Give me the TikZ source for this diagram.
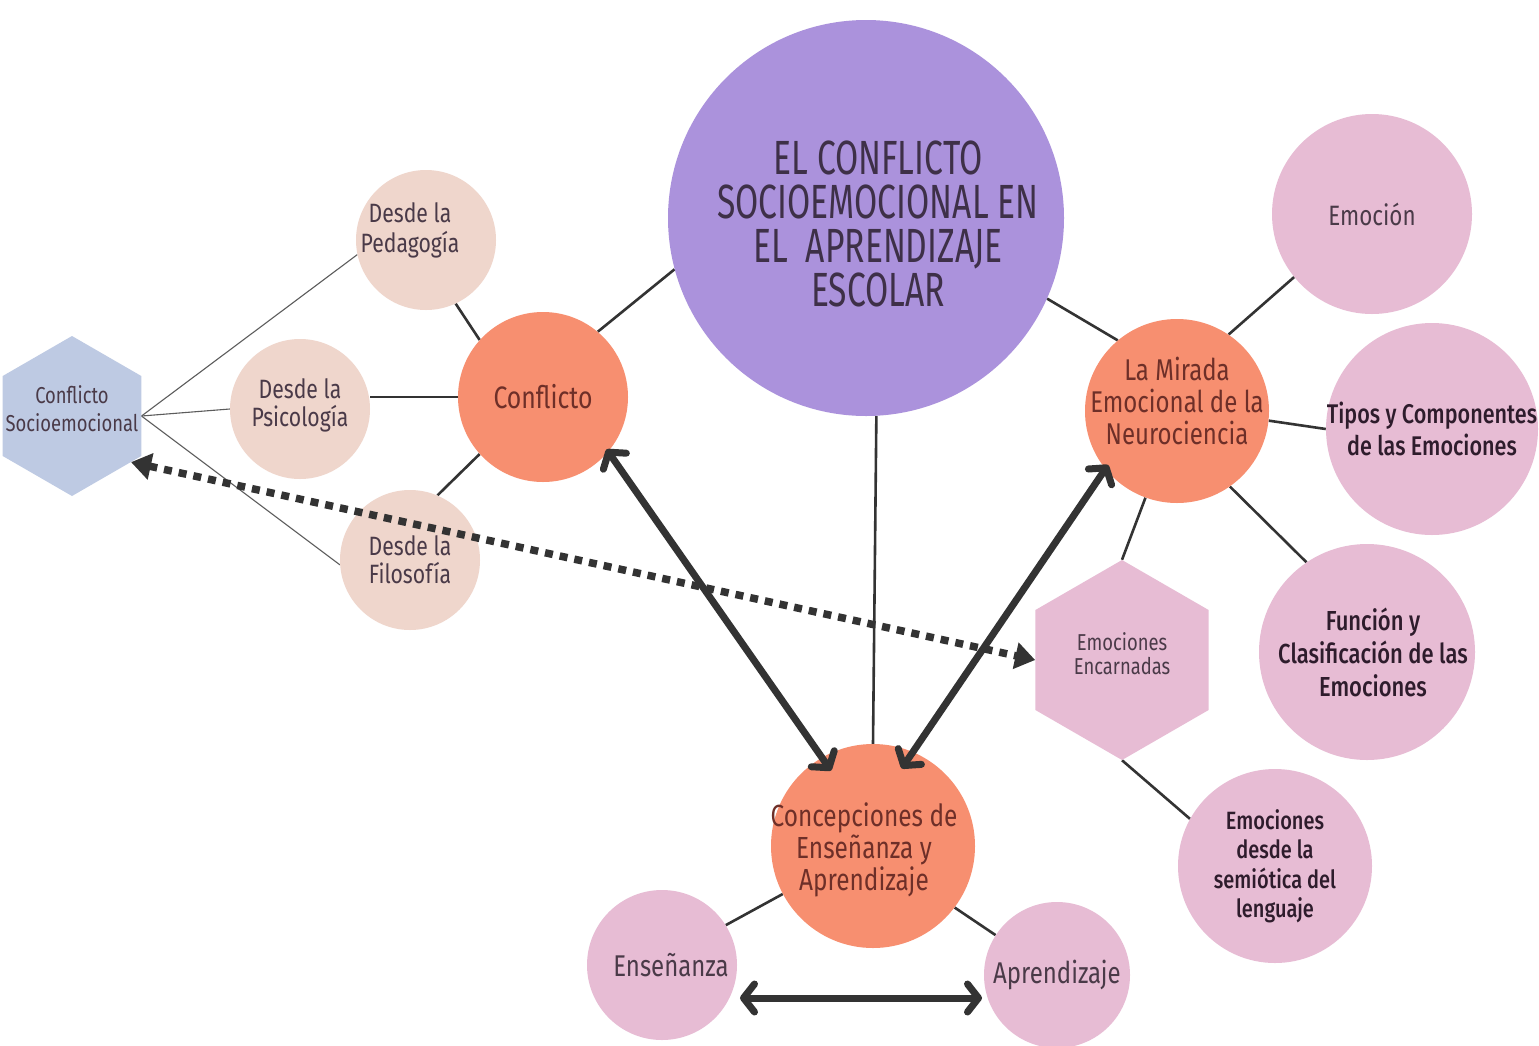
\documentclass[tikz,border=0pt]{standalone}
\usepackage{fontspec}
\setmainfont{Fira Sans}[FakeStretch=0.8]
\newfontfamily\mediumfont{Fira Sans Medium}[FakeStretch=0.8]
\newfontfamily\titlefont{Fira Sans}[FakeStretch=0.7]
\usetikzlibrary{shapes.geometric,arrows.meta,calc,backgrounds}

\definecolor{lilac}{HTML}{AB92DC}
\definecolor{coral}{HTML}{F78F70}
\definecolor{peach}{HTML}{EFD6CC}
\definecolor{rose}{HTML}{E7BCD4}
\definecolor{sky}{HTML}{BECAE3}
\definecolor{ink}{HTML}{333333}
\definecolor{plumtext}{HTML}{4A3A48}
\definecolor{rusttext}{HTML}{6E2F28}
\definecolor{darktext}{HTML}{2E1C2C}
\definecolor{titletext}{HTML}{3E3048}

\newcommand{\fsz}[2]{\fontsize{#1pt}{#2pt}\selectfont}

\begin{document}
\begin{tikzpicture}[x=1pt,y=-1pt,
  bubble/.style={circle, inner sep=-40pt, align=center, minimum size=#1},
  hexa/.style={regular polygon, regular polygon sides=6, shape border rotate=30,
    inner sep=-40pt, align=center, minimum size=#1},
  lbl/.style={align=center, inner sep=0pt},
  link/.style={draw=ink, line width=2.6pt},
  thinlink/.style={draw=ink!80, line width=1.1pt},
  boldarrow/.style={draw=ink, line width=7pt, line cap=round,
    {Straight Barb[length=11pt,width=28pt,line cap=round,line join=round]}-{Straight Barb[length=11pt,width=28pt,line cap=round,line join=round]}},
  dotarrow/.style={draw=ink, line width=7.5pt, dash pattern=on 8pt off 7pt,
    {Triangle[length=20pt,width=26pt]}-{Triangle[length=20pt,width=26pt]}}
]
\useasboundingbox (0,0) rectangle (1539,1045);

% central topic
\node[bubble=396pt, fill=lilac] (main) at (866,218) {};
\node[text=titletext, font=\titlefont\fsz{48}{44}, align=center] (title) at (878,224)
  {EL CONFLICTO\\SOCIOEMOCIONAL EN\\EL\ \ APRENDIZAJE\\ESCOLAR};

% left branch
\node[bubble=170pt, fill=coral, text=rusttext, font=\fsz{31}{36}] (conf) at (543,397) {Conflicto};
\node[bubble=140pt, fill=peach,
  label={[lbl, text=plumtext, font=\fsz{26.5}{30}, xshift=-16pt, yshift=10pt]center:Desde la\\Pedagogía}]
  (ped) at (426,240) {};
\node[bubble=140pt, fill=peach,
  label={[lbl, text=plumtext, font=\fsz{26.5}{28}, yshift=4pt]center:Desde la\\Psicología}]
  (psi) at (300,409) {};
\node[bubble=140pt, fill=peach, text=plumtext, font=\fsz{26.5}{28}] (fil) at (410,560) {Desde la\\Filosofía};
\node[hexa=160pt, fill=sky,
  label={[lbl, text=plumtext, font=\fsz{23}{28}, yshift=7pt]center:Conflicto\\Socioemocional}]
  (soc) at (72,416) {};

% right branch
\node[bubble=184pt, fill=coral,
  label={[lbl, text=rusttext, font=\fsz{30}{32}, yshift=10pt]center:La Mirada\\Emocional de la\\Neurociencia}]
  (mir) at (1177,411) {};
\node[bubble=200pt, fill=rose, text=plumtext, font=\fsz{28}{30}] (emo) at (1372,214) {Emoción};
\node[bubble=212pt, fill=rose, text=darktext, font=\mediumfont\fsz{27}{32}] (tip) at (1432,429) {Tipos y Componentes\\de las Emociones};
\node[bubble=216pt, fill=rose,
  label={[lbl, text=darktext, font=\mediumfont\fsz{27.5}{33}, xshift=6pt]center:Función y\\Clasificación de las\\Emociones}]
  (fun) at (1367,652) {};
\node[bubble=194pt, fill=rose, text=darktext, font=\mediumfont\fsz{25}{29.5}] (sem) at (1275,866) {Emociones\\desde la\\semiótica del\\lenguaje};
\node[hexa=200pt, fill=rose,
  label={[lbl, text=plumtext, font=\fsz{23}{24}, yshift=6pt]center:Emociones\\Encarnadas}]
  (enc) at (1122,660) {};

% bottom branch
\node[bubble=204pt, fill=coral,
  label={[lbl, text=rusttext, font=\fsz{30.5}{32}, xshift=-9pt, yshift=-4pt]center:Concepciones de\\Enseñanza y\\Aprendizaje}]
  (conc) at (873,846) {};
\node[bubble=150pt, fill=rose,
  label={[lbl, text=plumtext, font=\fsz{30}{30}, xshift=9pt]center:Enseñanza}]
  (ens) at (662,965) {};
\node[bubble=146pt, fill=rose, text=plumtext, font=\fsz{30}{30}] (apr) at (1057,975) {Aprendizaje};

\begin{pgfonlayer}{background}
  \fill[white] (0,0) rectangle (1539,1045);
  \draw[link] (main.195) -- (conf.50);
  \draw[link] (main.-24) -- (mir.130);
  \draw[link] (main.-87) -- (conc.north);
  \draw[link] (ped.-65) -- (conf.138);
  \draw[link] (conf.west) -- (conf.west -| psi.east);
  \draw[link] (fil.67) -- (conf.-138);
  \draw[link] (mir.56) -- (emo.-141);
  \draw[link] (mir.-6) -- (tip.west);
  \draw[link] (mir.-55) -- (fun.124);
  \draw[link] (mir.-110) -- (enc.north);
  \draw[link] (enc.south) -- (sem.151);
  \draw[link] (ens.32) -- (conc.208);
  \draw[link] (conc.-37) -- (apr.147);
  \draw[thinlink] (soc.east) -- (ped.192);
  \draw[thinlink] (soc.east) -- (psi.west);
  \draw[thinlink] (soc.east) -- (fil.184);
\end{pgfonlayer}

% relations
\draw[boldarrow, shorten <=-3pt, shorten >=-16pt] (conf.-40) -- (conc.120);
\draw[boldarrow, shorten <=-5pt, shorten >=-20pt] (mir.-141) -- (conc.67);
\draw[boldarrow] ($(ens.center)+(78,33)$) -- ($(apr.center)+(-75,23)$);
\draw[dotarrow] (soc.-38) -- (enc.west);
\end{tikzpicture}
\end{document}
